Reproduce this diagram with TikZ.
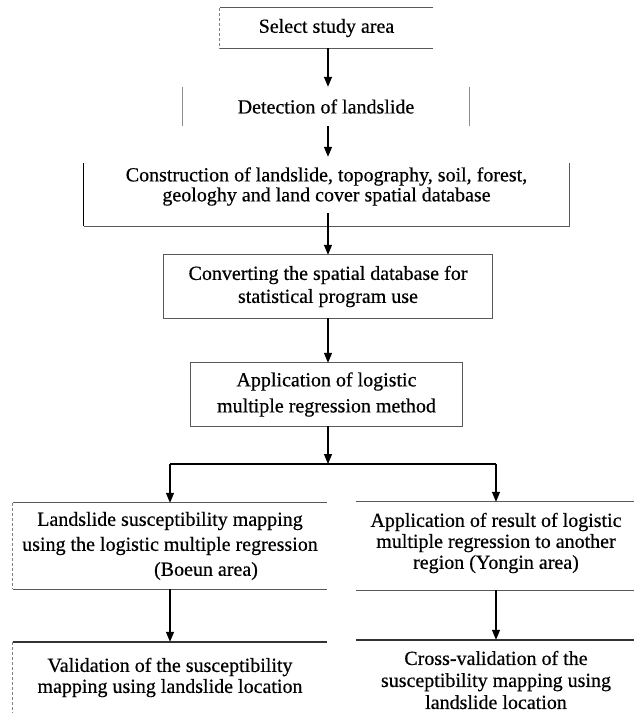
\documentclass[tikz,border=0pt]{standalone}
\usepackage{fontspec}
\setmainfont{Liberation Serif}[FakeBold=0.5]
\usetikzlibrary{arrows.meta}

\begin{document}
\begin{tikzpicture}[x=1pt,y=-1pt,
  box/.style={align=center,inner sep=0pt,font=\fontsize{20}{24}\selectfont},
  edge/.style={color=black!65,line width=1pt},
  faint/.style={color=black!50,line width=0.8pt,densely dashed},
  arr/.style={-{Triangle[length=10pt,width=8pt]},line width=1.2pt}]
\useasboundingbox (0,0) rectangle (634,713);

\node[box,minimum width=213pt,minimum height=40pt] (sel) at (326.5,28) {Select study area};
\node[box,minimum width=286pt,minimum height=39pt] (det) at (326,106.5) {Detection of landslide};
\node[box,minimum width=485pt,minimum height=79pt,font=\fontsize{20}{20}\selectfont] (con) at (326.5,186.5)
  {Construction of landslide, topography, soil, forest,\\geologhy and land cover spatial database};
\node[box,minimum width=328pt,minimum height=63pt,font=\fontsize{20}{23}\selectfont] (conv) at (328,286.5)
  {Converting the spatial database for\\statistical program use};
\node[box,minimum width=271pt,minimum height=63pt,font=\fontsize{20}{26}\selectfont] (app) at (326.5,394.5)
  {Application of logistic\\multiple regression method};
\node[box,minimum width=314pt,minimum height=86pt,font=\fontsize{20}{25}\selectfont] (lsm) at (170,546)
  {Landslide susceptibility mapping\\using the logistic multiple regression\\\hspace*{72pt}(Boeun area)};
\node[box,minimum width=279pt,minimum height=82pt,font=\fontsize{20}{21}\selectfont] (res) at (496,543)
  {Application of result of logistic\\multiple regression to another\\region (Yongin area)};
\node[box,minimum width=314pt,minimum height=71pt,font=\fontsize{20}{21}\selectfont] (val) at (170,677.5)
  {Validation of the susceptibility\\mapping using landslide location};
\node[box,minimum width=279pt,minimum height=80pt,font=\fontsize{20}{22}\selectfont] (cross) at (496,680)
  {Cross-validation of the\\susceptibility mapping using\\landslide location};

% box outlines
\draw[edge] (sel.north east) -- (sel.north west);
\draw[faint] (sel.north west) -- (sel.south west);
\draw[edge] (sel.south west) -- (sel.south east);
\draw[edge,black!45] (det.north west) -- (det.south west);
\draw[edge,black!45] (det.north east) -- (det.south east);
\draw[edge,black] ([yshift=-16pt]con.north west) -- (con.south west);
\draw[edge] (con.south west) -- (con.south east) -- ([yshift=-16pt]con.north east);
\draw[edge] (conv.north west) rectangle (conv.south east);
\draw[edge] (app.north west) rectangle (app.south east);
\draw[edge] (lsm.north west) -- (lsm.north east);
\draw[edge] (lsm.south west) -- (lsm.south east);
\draw[faint] (lsm.north west) -- (lsm.south west);
\draw[edge] (res.north west) -- (res.north east);
\draw[edge] ([yshift=-6pt]res.south west) -- ([yshift=-6pt]res.south east);
\draw[edge,black!80,line width=1.5pt] (val.north west) -- (val.north east);
\draw[faint] (val.north west) -- (val.south west);
\draw[edge,black!80,line width=1.5pt] (cross.north west) -- (cross.north east);

% arrows
\coordinate (split) at (328,464);
\draw[arr] (sel.south -| split) -- (det.north -| split);
\draw[arr] (det.south -| split) -- ([yshift=-10pt]con.north -| split);
\draw[arr] ([yshift=13pt]con.south -| split) -- (conv.north -| split);
\draw[arr] (conv.south -| split) -- (app.north -| split);
\draw[arr] (app.south -| split) -- (split);
\draw[line width=2.4pt] (lsm.north |- split) -- (res.north |- split);
\draw[arr] (lsm.north |- split) -- (lsm.north);
\draw[arr] (res.north |- split) -- (res.north);
\draw[arr] (lsm.south) -- (val.north);
\draw[arr] ([yshift=-6pt]res.south) -- (cross.north);
\end{tikzpicture}
\end{document}
